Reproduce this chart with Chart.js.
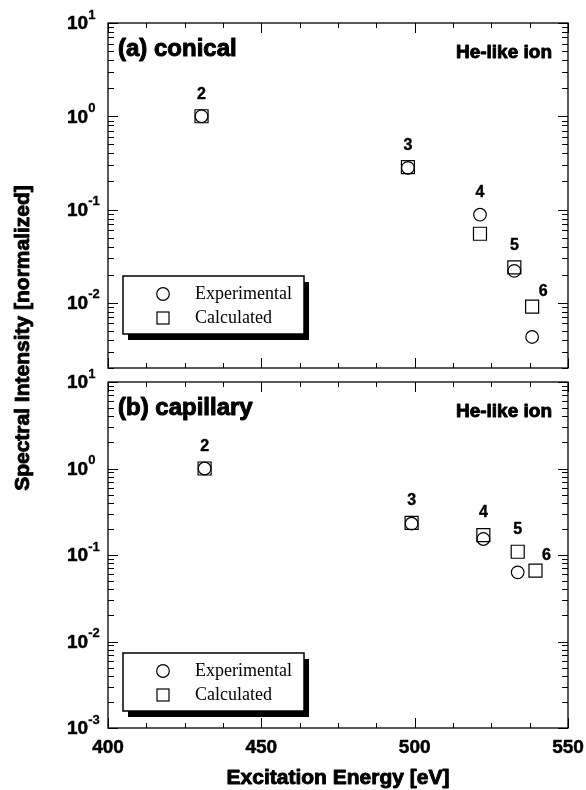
<!DOCTYPE html>
<html>
<head>
<meta charset="utf-8">
<title>He-like ion spectral intensity</title>
<script src="https://cdn.jsdelivr.net/npm/chart.js@4.4.0/dist/chart.umd.min.js"></script>
<style>
  html, body { margin: 0; padding: 0; background: #fff; }
  #wrap { position: relative; width: 586px; height: 790px; }
  #wrap canvas { position: absolute; left: 0; top: 0; }
</style>
</head>
<body>
<div id="wrap">
  <canvas id="panel-a" width="586" height="790"></canvas>
  <canvas id="panel-b" width="586" height="790"></canvas>
</div>
<script>
// ── Data ─────────────────────────────────────────────────────
const levels = ['2', '3', '4', '5', '6'];

// (a) conical
const conicalEnergy = [430.5, 497.8, 521.3, 532.5, 538.3];
const conicalExp = [1.0, 0.28, 0.088, 0.022, 0.0043];
const conicalCalc = [1.0, 0.285, 0.055, 0.024, 0.0091];

// (b) capillary (no experimental point for n = 6)
const capEnergy = [431.5, 499.0, 522.4, 533.6, 539.4];
const capExp = [1.0, 0.23, 0.153, 0.063];
const capCalc = [1.0, 0.235, 0.17, 0.109, 0.066];

const xTicks = [400, 450, 500, 550];
const yDecadesA = [-2, -1, 0, 1];
const yDecadesB = [-3, -2, -1, 0, 1];

const SANS = '"Liberation Sans", Arial, sans-serif';
const SERIF = '"Liberation Serif", "Times New Roman", serif';

// ── Helpers ──────────────────────────────────────────────────
function toPoints(xs, ys) {
    return ys.map((y, i) => ({ x: xs[i], y: y }));
}

// bold text with a thin outline, closer to the heavy face of the original
function heavyText(ctx, text, x, y, weight) {
    ctx.lineWidth = weight;
    ctx.strokeStyle = '#000';
    ctx.lineJoin = 'round';
    ctx.strokeText(text, x, y);
    ctx.fillText(text, x, y);
}

function drawTicks(chart) {
    const { ctx, chartArea: a, scales: { x, y } } = chart;
    ctx.save();
    ctx.strokeStyle = '#000';
    ctx.lineWidth = 1;
    ctx.beginPath();

    // x: major every 50, minor every 12.5, on top and bottom edges
    const step = (xTicks[1] - xTicks[0]) / 4;
    for (let v = xTicks[0]; v <= xTicks[xTicks.length - 1] + 1e-6; v += step) {
        const px = Math.round(x.getPixelForValue(v)) + 0.5;
        const len = xTicks.includes(v) ? 10 : 5;
        ctx.moveTo(px, a.bottom); ctx.lineTo(px, a.bottom - len);
        ctx.moveTo(px, a.top); ctx.lineTo(px, a.top + len);
    }

    // y: log decades with 2..9 minors, on left and right edges
    for (let e = -3; e <= 1; e++) {
        for (let m = 1; m <= 9; m++) {
            const v = m * Math.pow(10, e);
            if (v < y.min * 0.999 || v > y.max * 1.001) continue;
            const py = Math.round(y.getPixelForValue(v)) + 0.5;
            const len = m === 1 ? 10 : 6;
            ctx.moveTo(a.left, py); ctx.lineTo(a.left + len, py);
            ctx.moveTo(a.right, py); ctx.lineTo(a.right - len, py);
        }
    }
    ctx.stroke();

    ctx.lineWidth = 1.3;
    ctx.strokeRect(a.left, a.top, a.width, a.height);
    ctx.restore();
}

function drawYLabels(chart, decades) {
    const { ctx, scales: { y } } = chart;
    ctx.save();
    ctx.fillStyle = '#000';
    ctx.textAlign = 'left';
    decades.forEach(e => {
        const py = y.getPixelForValue(Math.pow(10, e));
        ctx.font = 'bold 19px ' + SANS;
        ctx.textBaseline = 'middle';
        heavyText(ctx, '10', 67, py + 1, 0.5);
        const w = ctx.measureText('10').width;
        ctx.font = 'bold 13px ' + SANS;
        heavyText(ctx, String(e), 67 + w, py - 8, 0.3);
    });
    ctx.restore();
}

function drawLevelLabels(chart, energy, exp, calc) {
    const { ctx, scales: { x, y } } = chart;
    ctx.save();
    ctx.fillStyle = '#000';
    ctx.font = 'bold 16px ' + SANS;
    ctx.textAlign = 'center';
    ctx.textBaseline = 'middle';
    levels.forEach((lab, i) => {
        const top = Math.max(exp[i] || 0, calc[i] || 0);
        const px = x.getPixelForValue(energy[i]);
        const py = y.getPixelForValue(top);
        if (i === levels.length - 1) {
            heavyText(ctx, lab, px + 11, py - 15, 0.4);
        } else {
            heavyText(ctx, lab, px, py - 22, 0.4);
        }
    });
    ctx.restore();
}

function drawLegend(ctx, left, top) {
    const w = 181, h = 58;
    ctx.save();
    ctx.fillStyle = '#000';
    ctx.fillRect(left + 5, top + 6, w, h);
    ctx.fillStyle = '#fff';
    ctx.fillRect(left, top, w, h);
    ctx.strokeStyle = '#000';
    ctx.lineWidth = 1.5;
    ctx.strokeRect(left, top, w, h);

    ctx.lineWidth = 1.2;
    ctx.beginPath();
    ctx.arc(left + 40, top + 18, 6.3, 0, Math.PI * 2);
    ctx.stroke();
    ctx.strokeRect(left + 34, top + 36, 12, 12);

    ctx.fillStyle = '#000';
    ctx.font = '18px ' + SERIF;
    ctx.textAlign = 'left';
    ctx.textBaseline = 'middle';
    ctx.fillText('Experimental', left + 72, top + 18);
    ctx.fillText('Calculated', left + 72, top + 42);
    ctx.restore();
}

function drawPanelText(chart, title) {
    const { ctx, chartArea: a } = chart;
    ctx.save();
    ctx.fillStyle = '#000';
    ctx.textBaseline = 'middle';
    ctx.font = 'bold 24px ' + SANS;
    ctx.textAlign = 'left';
    heavyText(ctx, title, a.left + 10, a.top + 26, 1);
    ctx.font = 'bold 19px ' + SANS;
    ctx.textAlign = 'right';
    heavyText(ctx, 'He-like ion', a.right - 16, a.top + 30, 0.9);
    ctx.restore();
}

function drawAxisTitles(chart) {
    const { ctx, chartArea: a, scales: { x } } = chart;
    ctx.save();
    ctx.fillStyle = '#000';

    // x tick labels under the bottom panel
    ctx.font = 'bold 19px ' + SANS;
    ctx.textAlign = 'center';
    ctx.textBaseline = 'middle';
    xTicks.forEach(v => heavyText(ctx, String(v), x.getPixelForValue(v), a.bottom + 20, 0.5));

    ctx.font = 'bold 21px ' + SANS;
    ctx.textBaseline = 'alphabetic';
    heavyText(ctx, 'Excitation Energy [eV]', (a.left + a.right) / 2, 784, 0.9);

    ctx.translate(29, 338);
    ctx.rotate(-Math.PI / 2);
    heavyText(ctx, 'Spectral Intensity [normalized]', 0, 0, 0.9);
    ctx.restore();
}

// ── Panels ───────────────────────────────────────────────────
function makePanel(canvasId, cfg) {
    const panelPlugin = {
        id: 'panelDecor',
        afterDraw(chart) {
            drawTicks(chart);
            drawYLabels(chart, cfg.decades);
            drawLevelLabels(chart, cfg.energy, cfg.exp, cfg.calc);
            drawPanelText(chart, cfg.title);
            drawLegend(chart.ctx, 123, cfg.legendTop);
            if (cfg.axisTitles) drawAxisTitles(chart);
        },
    };

    return new Chart(document.getElementById(canvasId), {
        type: 'scatter',
        data: {
            datasets: [
                {
                    label: 'Experimental',
                    data: toPoints(cfg.energy, cfg.exp),
                    pointStyle: 'circle',
                    pointRadius: 6.3,
                    pointBorderWidth: 1.2,
                    pointBorderColor: '#000',
                    pointBackgroundColor: 'rgba(0,0,0,0)',
                },
                {
                    label: 'Calculated',
                    data: toPoints(cfg.energy, cfg.calc),
                    pointStyle: 'rect',
                    pointRadius: 9.2,
                    pointBorderWidth: 1.2,
                    pointBorderColor: '#000',
                    pointBackgroundColor: 'rgba(0,0,0,0)',
                },
            ],
        },
        options: {
            responsive: false,
            animation: false,
            devicePixelRatio: 1,
            layout: { padding: { left: 108, right: 18, top: cfg.top, bottom: 790 - cfg.bottom } },
            scales: {
                x: { type: 'linear', min: 400, max: 550, display: false },
                y: { type: 'logarithmic', min: cfg.yMin, max: 10, display: false },
            },
            plugins: { legend: { display: false }, tooltip: { enabled: false } },
        },
        plugins: [panelPlugin],
    });
}

makePanel('panel-a', {
    title: '(a) conical', energy: conicalEnergy, exp: conicalExp, calc: conicalCalc,
    decades: yDecadesA, yMin: 0.002, top: 23, bottom: 368, legendTop: 276, axisTitles: false,
});

makePanel('panel-b', {
    title: '(b) capillary', energy: capEnergy, exp: capExp, calc: capCalc,
    decades: yDecadesB, yMin: 0.001, top: 382, bottom: 728, legendTop: 653, axisTitles: true,
});
</script>
</body>
</html>
